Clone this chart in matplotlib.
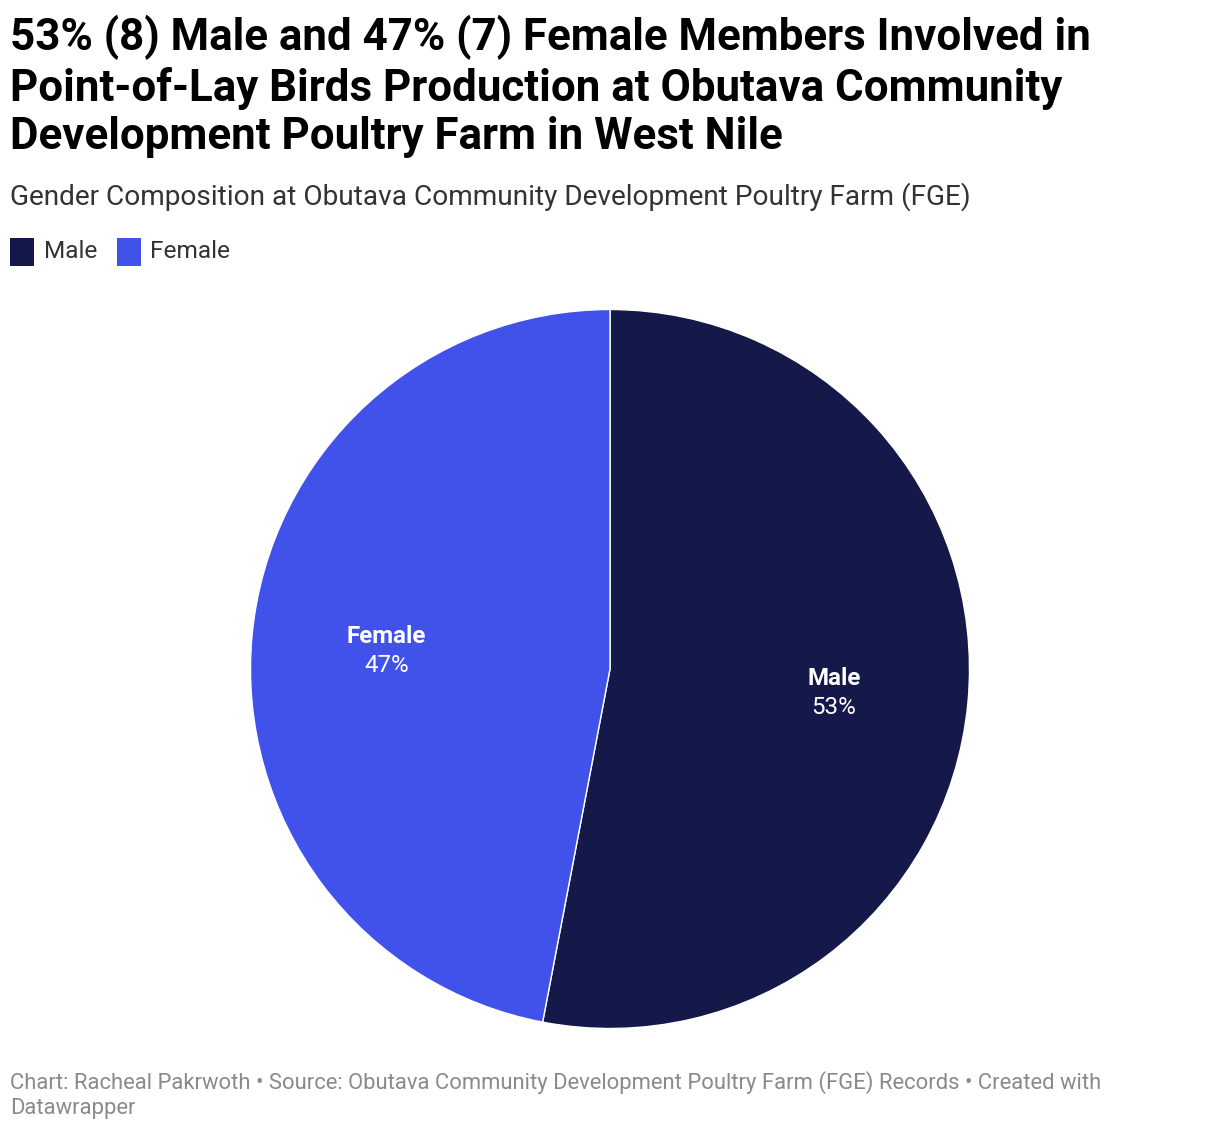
import matplotlib
matplotlib.use("Agg")
import matplotlib.pyplot as plt
from matplotlib.patches import Rectangle
import numpy as np

categories = ["Male", "Female"]
values = [53, 47]
colors = ["#15194a", "#4152ea"]

title = ("53% (8) Male and 47% (7) Female Members Involved in\n"
         "Point-of-Lay Birds Production at Obutava Community\n"
         "Development Poultry Farm in West Nile")
subtitle = "Gender Composition at Obutava Community Development Poultry Farm (FGE)"
footer = ("Chart: Racheal Pakrwoth \u2022 Source: Obutava Community Development Poultry Farm (FGE) Records \u2022 Created with\n"
          "Datawrapper")

plt.rcParams['font.family'] = ['Roboto', 'DejaVu Sans']

W, H = 1220, 1132
fig = plt.figure(figsize=(W / 100, H / 100), dpi=100)
fig.patch.set_facecolor("white")

def fx(px):
    return px / W

def fy(py):
    return 1 - py / H

fig.text(fx(10), fy(15), title, fontsize=31.6, fontweight='bold', color='#000000',
         va='top', ha='left', linespacing=1.19)
fig.text(fx(10), fy(197), subtitle, fontsize=20.2, color='#333333', va='center', ha='left')

# legend
leg_items = [(10, 44), (117, 150)]
for (sx, tx), cat, col in zip(leg_items, categories, colors):
    fig.patches.append(Rectangle((fx(sx), fy(266)), fx(24), 28 / H, transform=fig.transFigure,
                                 facecolor=col, edgecolor='none'))
    fig.text(fx(tx), fy(252), cat, fontsize=17.6, color='#333333', va='center', ha='left')

# pie
cx, cy, r = 610, 669, 359.5
ax = fig.add_axes([fx(cx - r), fy(cy + r), 2 * r / W, 2 * r / H])
wedges, _ = ax.pie(values, colors=colors, startangle=90, counterclock=False,
                   wedgeprops=dict(edgecolor='white', linewidth=1))
ax.set_xlim(-1, 1)
ax.set_ylim(-1, 1)
ax.set_aspect('equal')
ax.axis('off')

for w, cat, v in zip(wedges, categories, values):
    ang = np.deg2rad((w.theta1 + w.theta2) / 2)
    x, y = 0.625 * np.cos(ang), 0.625 * np.sin(ang) - 0.008
    ax.text(x, y + 0.04, cat, fontsize=17.4, fontweight='bold', color='white', ha='center', va='center')
    ax.text(x, y - 0.04, f"{v}%", fontsize=17.4, color='white', ha='center', va='center')

fig.text(fx(10), fy(1071), footer, fontsize=15.8, color='#8a8a8a', va='top', ha='left', linespacing=1.24)

fig.savefig("out.png", dpi=100)
